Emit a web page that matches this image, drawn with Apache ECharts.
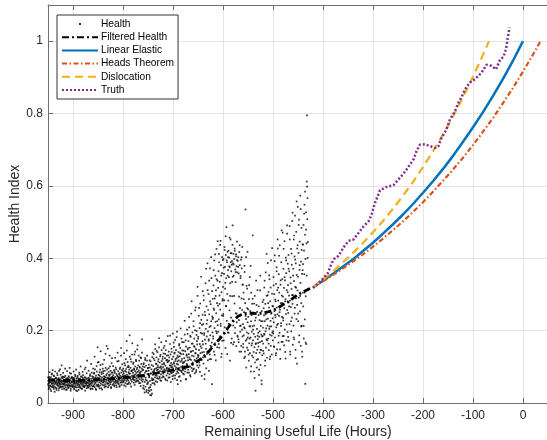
<!DOCTYPE html>
<html>
<head>
<meta charset="utf-8">
<script src="https://cdn.jsdelivr.net/npm/echarts@6/dist/echarts.min.js"></script>
<style>html,body{margin:0;padding:0;background:#fff}#c{width:547px;height:440px}</style>
</head>
<body>
<div id="c"></div>
<script>
// ---------- DATA ----------
const xTicks = [-900,-800,-700,-600,-500,-400,-300,-200,-100,0];
const yTicks = [0,0.2,0.4,0.6,0.8,1];

// Health (raw noisy index), sampled every 0.5 h from -950 h
const healthStart = -950;
const healthStep = 0.5;
const healthY = [
.052,.061,.047,.068,.055,.043,.072,.058,.049,.064,.038,.057,.071,.046,.062,.053,.081,.044,.059,.066,
.048,.063,.055,.039,.074,.051,.060,.045,.067,.056,.042,.070,.053,.061,.036,.058,.065,.049,.077,.054,
.063,.047,.058,.069,.041,.055,.062,.050,.093,.046,.059,.066,.052,.044,.071,.057,.038,.061,.053,.068,
.045,.060,.072,.051,.057,.040,.064,.054,.048,.075,.059,.043,.066,.050,.062,.037,.056,.069,.047,.058,
.066,.052,.043,.061,.070,.049,.056,.083,.045,.063,.054,.039,.068,.058,.047,.072,.051,.060,.044,.065,
.057,.048,.064,.053,.041,.069,.060,.046,.055,.074,.050,.035,.062,.057,.067,.043,.054,.071,.049,.061,
.059,.068,.044,.056,.063,.050,.079,.047,.058,.066,.042,.055,.073,.052,.061,.039,.064,.048,.057,.070,
.053,.046,.067,.058,.049,.062,.044,.071,.055,.060,.098,.048,.065,.052,.059,.041,.068,.056,.047,.063,
.062,.055,.043,.070,.051,.064,.058,.046,.075,.053,.060,.040,.067,.057,.049,.084,.054,.061,.045,.069,
.058,.072,.047,.065,.081,.052,.061,.044,.093,.068,.055,.039,.076,.063,.050,.087,.059,.046,.070,.112,
.064,.051,.078,.045,.069,.057,.085,.062,.048,.073,.105,.054,.066,.041,.080,.059,.071,.050,.063,.095,
.056,.082,.067,.049,.074,.060,.043,.089,.065,.052,.136,.071,.058,.077,.046,.063,.092,.055,.068,.150,
.070,.054,.061,.086,.048,.075,.059,.066,.101,.052,.079,.063,.044,.071,.058,.084,.124,.067,.050,.073,
.062,.077,.053,.069,.091,.058,.046,.083,.065,.072,.055,.098,.061,.049,.080,.068,.057,.115,.074,.063,
.059,.088,.071,.052,.066,.079,.045,.094,.062,.075,.056,.068,.131,.084,.050,.072,.063,.107,.057,.078,
.067,.095,.058,.082,.073,.049,.110,.064,.089,.076,.055,.121,.070,.086,.061,.145,.078,.052,.099,.068,
.074,.062,.103,.085,.057,.092,.069,.128,.081,.053,.097,.072,.064,.114,.088,.059,.076,.165,.091,.066,
.083,.069,.112,.056,.095,.077,.134,.063,.088,.101,.071,.058,.119,.084,.067,.093,.075,.148,.062,.086,
.071,.104,.060,.090,.079,.117,.066,.098,.082,.055,.126,.074,.087,.108,.063,.095,.139,.077,.059,.101,
.065,.092,.048,.110,.076,.038,.099,.058,.084,.124,.045,.070,.103,.031,.088,.062,.117,.052,.080,.096,
.057,.028,.089,.106,.042,.074,.033,.098,.061,.022,.115,.050,.081,.036,.093,.068,.026,.127,.055,.086,
.078,.102,.064,.135,.087,.055,.118,.094,.071,.149,.083,.060,.109,.096,.126,.075,.091,.058,.140,.104,
.092,.067,.121,.085,.154,.098,.073,.112,.088,.063,.133,.101,.079,.168,.094,.116,.070,.107,.086,.128,
.099,.081,.137,.072,.110,.093,.158,.085,.124,.067,.103,.146,.090,.118,.076,.131,.097,.062,.113,.185,
.088,.115,.070,.142,.096,.126,.079,.104,.163,.091,.134,.058,.110,.098,.150,.083,.121,.106,.074,.192,
.095,.128,.076,.112,.155,.089,.137,.102,.068,.174,.116,.093,.146,.081,.124,.108,.197,.087,.131,.052,
.106,.083,.141,.118,.072,.163,.097,.129,.090,.152,.114,.061,.136,.100,.178,.085,.122,.145,.094,.110,
.091,.135,.112,.168,.079,.124,.101,.189,.087,.143,.117,.065,.156,.098,.131,.108,.203,.084,.126,.148,
.118,.092,.171,.135,.084,.209,.126,.153,.101,.186,.073,.142,.119,.247,.097,.164,.131,.088,.195,.112,
.144,.108,.226,.129,.095,.178,.155,.082,.201,.137,.116,.264,.149,.091,.188,.123,.171,.104,.296,.133,
.127,.183,.098,.241,.146,.112,.207,.163,.086,.275,.138,.194,.119,.230,.152,.075,.216,.140,.171,.309,
.162,.218,.109,.284,.141,.193,.066,.252,.175,.127,.331,.205,.150,.096,.267,.184,.136,.229,.386,.118,
.198,.143,.301,.176,.089,.245,.210,.134,.372,.187,.158,.273,.121,.226,.345,.167,.052,.239,.195,.288,
.236,.178,.325,.261,.142,.394,.207,.289,.165,.352,.224,.118,.311,.248,.426,.193,.276,.154,.338,.215,
.269,.197,.364,.231,.412,.153,.297,.335,.184,.258,.448,.213,.381,.127,.306,.242,.359,.172,.283,.395,
.321,.246,.398,.173,.357,.284,.431,.209,.376,.332,.152,.409,.268,.345,.486,.227,.389,.301,.418,.195,
.367,.283,.421,.194,.348,.402,.256,.375,.117,.331,.452,.389,.236,.364,.414,.178,.392,.295,.437,.349,
.386,.214,.412,.352,.168,.398,.275,.421,.193,.369,.334,.248,.405,.157,.378,.223,.446,.361,.186,.393,
.241,.403,.176,.358,.229,.417,.142,.381,.262,.197,.345,.214,.396,.158,.289,.372,.203,.431,.184,.327,
.218,.163,.305,.187,.251,.124,.379,.206,.142,.276,.535,.172,.232,.098,.324,.195,.153,.262,.418,.181,
.146,.238,.192,.117,.287,.165,.212,.348,.138,.254,.181,.087,.226,.305,.159,.197,.131,.274,.212,.463,
.173,.126,.248,.191,.087,.214,.154,.296,.112,.183,.034,.236,.165,.138,.271,.098,.205,.147,.312,.176,
.121,.194,.156,.267,.078,.183,.229,.139,.168,.352,.105,.213,.147,.189,.062,.254,.171,.132,.226,.185,
.208,.164,.285,.137,.242,.319,.189,.226,.103,.274,.198,.361,.153,.231,.176,.296,.125,.252,.214,.387,
.233,.178,.307,.146,.264,.205,.342,.121,.189,.281,.227,.158,.394,.212,.249,.134,.302,.195,.268,.173,
.267,.192,.348,.223,.156,.301,.254,.408,.181,.286,.237,.132,.329,.209,.375,.264,.148,.312,.245,.427,
.219,.283,.167,.356,.241,.305,.194,.436,.258,.122,.327,.276,.213,.389,.169,.297,.238,.342,.185,.471,
.294,.228,.371,.185,.318,.262,.447,.203,.339,.141,.287,.402,.246,.359,.173,.312,.491,.257,.196,.385,
.326,.249,.409,.172,.297,.364,.218,.452,.283,.134,.347,.265,.426,.198,.315,.382,.236,.503,.274,.161,
.298,.371,.214,.452,.337,.176,.405,.263,.518,.321,.147,.386,.289,.473,.232,.354,.109,.427,.311,.542,
.349,.226,.415,.291,.507,.187,.368,.446,.253,.573,.332,.158,.391,.276,.484,.213,.357,.128,.438,.305,
.384,.267,.492,.178,.421,.356,.548,.231,.465,.053,.398,.295,.527,.163,.441,.612,.795,.508,.566,.445
];

// Health, second interleaved set of samples, every 1 h from -949.75 h
const healthBStart = -949.75;
const healthBStep = 1;
const healthYB = [
.071,.039,.058,.085,.047,.066,.033,.079,.054,.091,
.044,.076,.062,.031,.087,.057,.069,.041,.082,.050,
.067,.035,.089,.054,.043,.078,.061,.104,.046,.073,
.083,.052,.040,.071,.095,.058,.036,.066,.088,.049,
.041,.074,.063,.097,.048,.034,.081,.059,.070,.045,
.069,.087,.038,.056,.078,.044,.092,.061,.033,.075,
.052,.036,.084,.067,.043,.101,.058,.073,.040,.086,
.077,.060,.045,.093,.034,.070,.055,.082,.117,.048,
.043,.089,.066,.051,.079,.038,.108,.062,.074,.039,
.095,.047,.083,.128,.058,.071,.036,.102,.064,.154,
.049,.113,.076,.040,.092,.143,.061,.085,.037,.107,
.088,.058,.119,.072,.046,.097,.065,.158,.081,.053,
.043,.096,.078,.131,.057,.089,.041,.110,.070,.084,
.102,.067,.049,.087,.125,.060,.093,.044,.076,.139,
.054,.116,.082,.047,.098,.069,.152,.058,.091,.073,
.087,.062,.138,.075,.104,.046,.094,.171,.066,.113,
.053,.099,.081,.187,.068,.121,.045,.089,.134,.072,
.108,.064,.093,.050,.142,.079,.116,.061,.097,.159,
.078,.131,.055,.100,.085,.047,.124,.069,.176,.090,
.041,.107,.073,.029,.119,.064,.088,.036,.131,.054,
.097,.035,.071,.118,.044,.082,.021,.105,.063,.139,
.066,.123,.091,.051,.162,.077,.108,.144,.069,.099,
.115,.083,.179,.069,.129,.098,.061,.146,.087,.122,
.074,.152,.107,.088,.136,.064,.171,.095,.119,.082,
.132,.094,.117,.071,.186,.103,.083,.141,.099,.066,
.085,.167,.109,.139,.076,.121,.098,.182,.063,.115,
.127,.092,.159,.074,.138,.206,.089,.117,.168,.102,
.081,.145,.113,.227,.094,.173,.066,.134,.105,.191,
.152,.099,.238,.121,.077,.183,.142,.281,.108,.164,
.093,.212,.157,.119,.256,.138,.086,.199,.162,.321,
.178,.131,.263,.104,.221,.157,.349,.119,.192,.244,
.126,.297,.188,.079,.243,.164,.371,.219,.141,.312,
.257,.172,.338,.121,.281,.213,.403,.156,.309,.232,
.184,.367,.257,.133,.411,.296,.198,.342,.226,.447,
.318,.163,.389,.274,.437,.219,.352,.136,.403,.287,
.241,.374,.192,.423,.316,.461,.268,.394,.135,.352,
.403,.219,.378,.457,.296,.414,.166,.382,.335,.491,
.162,.383,.296,.427,.208,.362,.411,.247,.395,.183,
.376,.168,.294,.436,.213,.351,.142,.403,.257,.327,
.154,.287,.209,.362,.128,.241,.403,.176,.316,.223,
.259,.134,.326,.178,.212,.379,.101,.243,.165,.288,
.203,.141,.275,.069,.228,.163,.338,.119,.252,.186,
.166,.243,.092,.198,.311,.147,.226,.052,.184,.279,
.144,.262,.191,.338,.117,.245,.206,.412,.173,.298,
.276,.164,.353,.211,.128,.319,.247,.186,.428,.234,
.198,.325,.156,.392,.243,.281,.138,.364,.216,.452,
.319,.186,.407,.251,.148,.339,.221,.477,.276,.169,
.235,.426,.159,.348,.281,.123,.394,.217,.468,.306,
.183,.371,.267,.489,.142,.331,.226,.413,.298,.526,
.352,.181,.463,.247,.396,.124,.319,.557,.271,.436,
.247,.492,.168,.381,.296,.536,.212,.423,.142,.367,
.438,.213,.523,.305,.584,.167,.479,.352,.598,.401
];

// Filtered Health
const filteredX = [-950,-930,-900,-870,-850,-820,-800,-780,-760,-740,-720,-700,-690,-680,-670,-660,-650,-640,-630,-620,-610,-600,-590,-580,-570,-560,-550,-540,-530,-520,-510,-500,-490,-480,-470,-460,-450,-440,-430,-420];
const filteredY = [.064,.063,.062,.063,.065,.067,.070,.072,.076,.081,.086,.091,.094,.097,.101,.108,.116,.127,.140,.156,.172,.188,.208,.226,.240,.246,.248,.248,.247,.249,.252,.256,.263,.272,.279,.290,.300,.307,.314,.320];

// Linear Elastic
const elasticX = [-420,-400,-380,-360,-340,-320,-300,-280,-260,-240,-220,-200,-180,-160,-140,-120,-100,-80,-60,-40,-20,0];
const elasticY = [.320,.338,.357,.377,.397,.420,.443,.468,.494,.521,.550,.581,.613,.647,.683,.722,.762,.804,.849,.896,.946,1.0];

// Heads Theorem
const headsX = [-420,-400,-380,-360,-340,-320,-300,-280,-260,-240,-220,-200,-180,-160,-140,-120,-100,-80,-60,-40,-20,0,20,35];
const headsY = [.320,.336,.354,.372,.391,.411,.432,.454,.478,.502,.528,.555,.584,.614,.645,.678,.713,.750,.788,.829,.871,.916,.963,1.0];

// Dislocation
const dislocX = [-420,-400,-380,-360,-340,-320,-300,-280,-260,-240,-220,-200,-180,-160,-140,-120,-100,-80,-68];
const dislocY = [.320,.341,.364,.389,.415,.442,.472,.503,.537,.573,.611,.652,.696,.742,.792,.845,.902,.962,1.0];

// Truth
const truthX = [-420,-410,-399,-390,-383,-378,-369,-359,-349,-339,-329,-319,-309,-303,-296,-286,-273,-259,-249,-240,-233,-219,-213,-206,-196,-186,-176,-169,-163,-153,-146,-136,-129,-122,-116,-106,-96,-83,-73,-63,-54,-46,-39,-34,-31,-27];
const truthY = [.318,.330,.345,.360,.385,.398,.407,.430,.448,.452,.470,.488,.502,.520,.553,.588,.597,.602,.618,.632,.645,.673,.696,.714,.715,.710,.705,.710,.733,.756,.784,.807,.830,.848,.867,.886,.895,.913,.935,.932,.922,.948,.957,.978,1.005,1.038];

// ---------- CHART ----------
const zip = (xs, ys) => xs.map((x, i) => [x, ys[i]]);
const healthData = healthY.map((v, i) => [healthStart + i * healthStep, v])
  .concat(healthYB.map((v, i) => [healthBStart + i * healthBStep, v]));

const FONT = '"Liberation Sans", Arial, Helvetica, sans-serif';
const TXT = '#262626';
const AX = '#6e6e6e';
const GRID = '#e4e4e4';
const hideSym = {opacity: 0};

const chart = echarts.init(document.getElementById('c'), null, {renderer: 'canvas'});
chart.setOption({
  animation: false,
  backgroundColor: '#fff',
  textStyle: {fontFamily: FONT},
  grid: {left: 48, top: 5, width: 500, height: 398, containLabel: false, outerBoundsMode: 'none'},
  legend: {
    orient: 'vertical',
    left: 57, top: 15,
    padding: [4, 4, 4, 4],
    itemWidth: 36, itemHeight: 10, itemGap: 3.2,
    backgroundColor: '#fff',
    borderColor: '#333', borderWidth: 1,
    textStyle: {fontFamily: FONT, fontSize: 10.2, color: '#000', padding: [0,0,0,-2]},
    data: [
      {name: 'Health', icon: 'path://M0,0M36,10M17,4h2v2h-2z'},
      {name: 'Filtered Health', itemStyle: hideSym},
      {name: 'Linear Elastic', itemStyle: hideSym},
      {name: 'Heads Theorem', itemStyle: hideSym},
      {name: 'Dislocation', itemStyle: hideSym},
      {name: 'Truth', itemStyle: hideSym}
    ]
  },
  xAxis: [{
    type: 'value', min: -950, max: 50, splitNumber: 10,
    name: 'Remaining Useful Life (Hours)', nameLocation: 'middle', nameGap: 22, nameMoveOverlap: false,
    nameTextStyle: {fontFamily: FONT, fontSize: 14, color: TXT},
    axisLine: {show: true, onZero: false, lineStyle: {color: AX, width: 1}},
    axisTick: {show: true, inside: true, length: 5, lineStyle: {color: AX}},
    axisLabel: {fontFamily: FONT, fontSize: 12, color: TXT, margin: 7,
      formatter: v => xTicks.includes(Math.round(v)) && Math.abs(v - Math.round(v)) < 1e-6 ? String(Math.round(v)) : ''},
    splitLine: {show: true, lineStyle: {color: GRID, width: 1}}
  }, {
    type: 'value', position: 'top', min: -950, max: 50, splitNumber: 10,
    axisLine: {show: true, onZero: false, lineStyle: {color: AX, width: 1}},
    axisTick: {show: true, inside: true, length: 5, lineStyle: {color: AX}},
    axisLabel: {show: false}, splitLine: {show: false}
  }],
  yAxis: [{
    type: 'value', min: 0, max: 1.1, interval: 0.2,
    name: 'Health Index', nameLocation: 'middle', nameGap: 26, nameMoveOverlap: false,
    nameTextStyle: {fontFamily: FONT, fontSize: 14, color: TXT},
    axisLine: {show: true, onZero: false, lineStyle: {color: AX, width: 1}},
    axisTick: {show: true, inside: true, length: 5, lineStyle: {color: AX}},
    axisLabel: {fontFamily: FONT, fontSize: 12, color: TXT, margin: 5,
      formatter: v => {
        const t = yTicks.find(t => Math.abs(t - v) < 1e-6);
        return t === undefined ? '' : String(t);
      }},
    splitLine: {show: true, lineStyle: {color: GRID, width: 1}}
  }],
  series: [
    {
      name: 'Health', type: 'scatter', data: healthData,
      symbol: 'rect', symbolSize: 1.7,
      itemStyle: {color: '#000'}, z: 2, silent: true
    },
    {
      name: 'Filtered Health', type: 'line', data: zip(filteredX, filteredY),
      symbol: 'none', showSymbol: false,
      lineStyle: {color: '#000', width: 2.8, type: [7, 3, 2, 3]},
      itemStyle: {color: '#000'}, z: 3
    },
    {
      name: 'Linear Elastic', type: 'line', data: zip(elasticX, elasticY),
      symbol: 'none', showSymbol: false,
      lineStyle: {color: '#0072BD', width: 2.5, type: 'solid'},
      itemStyle: {color: '#0072BD'}, z: 4
    },
    {
      name: 'Heads Theorem', type: 'line', data: zip(headsX, headsY),
      symbol: 'none', showSymbol: false,
      lineStyle: {color: '#D95319', width: 2.2, type: [5, 2.5, 1.5, 2.5]},
      itemStyle: {color: '#D95319'}, z: 5
    },
    {
      name: 'Dislocation', type: 'line', data: zip(dislocX, dislocY),
      symbol: 'none', showSymbol: false,
      lineStyle: {color: '#EDB120', width: 2.2, type: [8, 5]},
      itemStyle: {color: '#EDB120'}, z: 6
    },
    {
      name: 'Truth', type: 'line', data: zip(truthX, truthY),
      symbol: 'none', showSymbol: false,
      lineStyle: {color: '#7E2F8E', width: 2.5, type: [2, 2]},
      itemStyle: {color: '#7E2F8E'}, z: 7
    }
  ]
});
</script>
</body>
</html>
